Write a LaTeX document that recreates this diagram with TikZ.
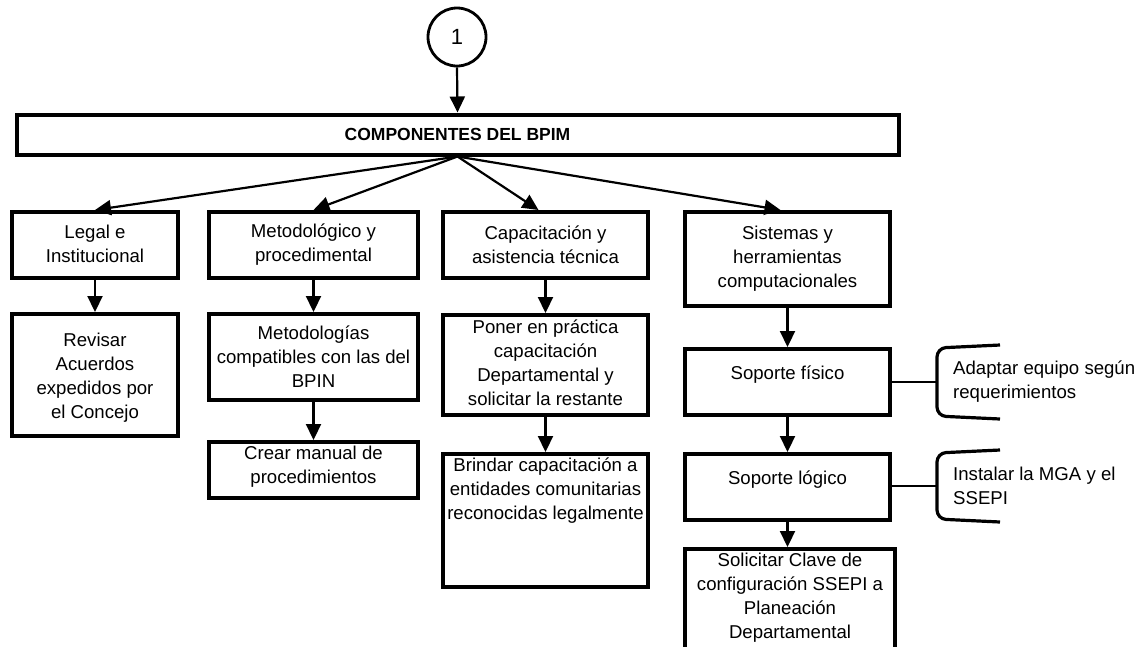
\documentclass[tikz,border=0pt]{standalone}
\usepackage{fontspec}
\setmainfont{Liberation Sans}
\usetikzlibrary{arrows.meta,calc}
\begin{document}
\begin{tikzpicture}[x=1pt,y=-1pt,
 box/.style={draw, line width=4pt, inner sep=0pt, fill=white},
 txt/.style={align=center, font=\fontsize{18.6}{24}\selectfont, inner sep=0pt},
 ltxt/.style={align=left, font=\fontsize{18.6}{24}\selectfont, inner sep=0pt, anchor=west},
 arr/.style={line width=2.2pt, -{Triangle[width=15pt,length=16pt]}},
 thinline/.style={line width=1.6pt},
 brk/.style={line width=3.2pt, rounded corners=9pt}]
\useasboundingbox (0,0) rectangle (1140,646);
% circle
\node[draw, circle, line width=2.8pt, minimum size=58pt, inner sep=0pt, font=\fontsize{22}{24}\selectfont] (c1) at (457,37) {1};
% main box
\node[box, minimum width=882pt, minimum height=40pt, font=\bfseries\fontsize{17.5}{20}\selectfont] (main) at (457.5,134.5) {COMPONENTES DEL BPIM};
% column 1
\node[box, minimum width=166pt, minimum height=66pt] (legal) at (95,245) {};
\node[txt] (tlegal) at (95,244) {Legal e\\Institucional};
\node[box, minimum width=166pt, minimum height=122pt] (revisar) at (95,375) {};
\node[txt] (trevisar) at (95,378) {Revisar\\Acuerdos\\expedidos por\\el Concejo};
% column 2
\node[box, minimum width=209pt, minimum height=66pt] (metodo) at (313.5,245) {};
\node[txt] (tmetodo) at (313.5,245) {Metodológico y\\procedimental};
\node[box, minimum width=209pt, minimum height=86pt] (metodologias) at (313.5,357) {};
\node[txt] (tmetodologias) at (313.5,357) {Metodologías\\compatibles con las del\\BPIN};
\node[box, minimum width=209pt, minimum height=56pt] (crear) at (313.5,470) {};
\node[txt] (tcrear) at (313.5,467) {Crear manual de\\procedimientos};
% column 3
\node[box, minimum width=205pt, minimum height=66pt] (capac) at (545.5,245) {};
\node[txt] (tcapac) at (545.5,245) {Capacitación y\\asistencia técnica};
\node[box, minimum width=205pt, minimum height=100pt] (poner) at (545.5,365) {};
\node[txt] (tponer) at (545.5,363) {Poner en práctica\\capacitación\\Departamental y\\solicitar la restante};
\node[box, minimum width=205pt, minimum height=133pt] (brindar) at (545.5,520.5) {};
\node[txt] (tbrindar) at (545.5,491) {Brindar capacitación a\\entidades comunitarias\\reconocidas legalmente};
% column 4
\node[box, minimum width=205pt, minimum height=94pt] (sistemas) at (787.5,259) {};
\node[txt] (tsistemas) at (787.5,259) {Sistemas y\\herramientas\\computacionales};
\node[box, minimum width=205pt, minimum height=66pt] (fisico) at (787.5,382) {};
\node[txt] (tfisico) at (787.5,375) {Soporte físico};
\node[box, minimum width=205pt, minimum height=66pt] (logico) at (787.5,487) {};
\node[txt] (tlogico) at (787.5,480) {Soporte lógico};
\node[box, minimum width=210pt, minimum height=112pt] (solicitar) at (790,605) {};
\node[txt] (tsolicitar) at (790,598) {Solicitar Clave de\\configuración SSEPI a\\Planeación\\Departamental};
% brackets
\draw[brk] (1000,345) -- (937,348) -- (937,416) -- (1000,419);
\coordinate (b1) at (937,382);
\node[ltxt] (tb1) at (953,382) {Adaptar equipo según\\requerimientos};
\draw[brk] (1000,450) -- (937,453) -- (937,519) -- (1000,522);
\coordinate (b2) at (937,486);
\node[ltxt] (tb2) at (953,486) {Instalar la MGA y el\\SSEPI};
% connectors
\draw[arr] (c1.south) -- (main.north);
\draw[arr] (main.south) -- (legal.north);
\draw[arr] (main.south) -- (metodo.north);
\draw[arr] (main.south) -- ($(capac.north)+(-7,0)$);
\draw[arr] (main.south) -- ($(sistemas.north)+(-7,0)$);
\draw[arr] (legal.south) -- (revisar.north);
\draw[arr] (metodo.south) -- (metodologias.north);
\draw[arr] (metodologias.south) -- (crear.north);
\draw[arr] (capac.south) -- (poner.north);
\draw[arr] (poner.south) -- (brindar.north);
\draw[arr] (sistemas.south) -- (fisico.north);
\draw[arr] (fisico.south) -- (logico.north);
\draw[arr] (logico.south) -- (logico.south |- solicitar.north);
\draw[thinline] (fisico.east) -- (b1);
\draw[thinline] (logico.east |- b2) -- (b2);
\end{tikzpicture}
\end{document}
